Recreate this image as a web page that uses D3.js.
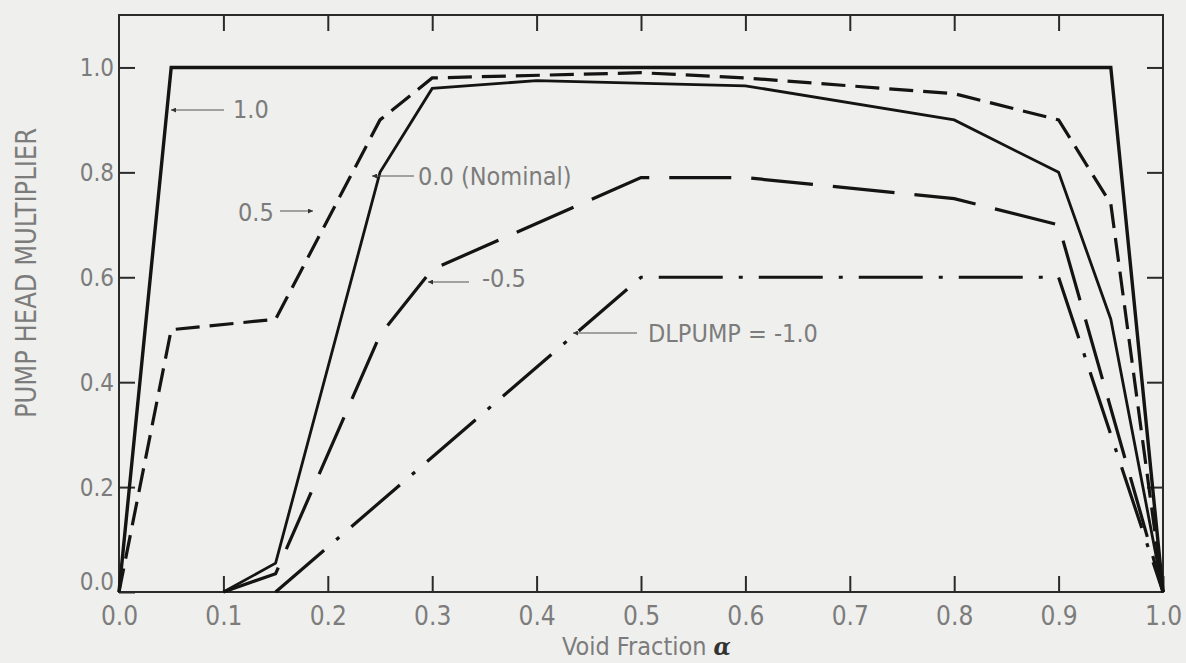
<!DOCTYPE html>
<html>
<head>
<meta charset="utf-8">
<script src="https://cdn.jsdelivr.net/npm/d3@7"></script>
<style>
  html, body { margin: 0; padding: 0; background: #efefed; }
  svg { display: block; }
  text { font-family: "DejaVu Sans Condensed", "DejaVu Sans", sans-serif; font-stretch: condensed; fill: #7c7c7c; }
</style>
</head>
<body>
<svg id="chart" width="1186" height="663"></svg>
<script>
// Tick values
const xTicks = [0, 0.1, 0.2, 0.3, 0.4, 0.5, 0.6, 0.7, 0.8, 0.9, 1.0];
const yTicks = [0, 0.2, 0.4, 0.6, 0.8, 1.0];

// Pump head multiplier vs void fraction, one curve per DLPUMP setting
const curveDl10   = [[0, 0], [0.05, 1.0], [0.95, 1.0], [1.0, 0]];
const curveDl05   = [[0, 0], [0.05, 0.5], [0.15, 0.52], [0.25, 0.9], [0.3, 0.98], [0.5, 0.99],
                     [0.6, 0.98], [0.8, 0.95], [0.9, 0.9], [0.95, 0.74], [1.0, 0]];
const curveDl00   = [[0.1, 0], [0.15, 0.055], [0.25, 0.8], [0.3, 0.96], [0.4, 0.975], [0.6, 0.965],
                     [0.8, 0.9], [0.9, 0.8], [0.95, 0.52], [1.0, 0]];
const curveDlM05  = [[0.1, 0], [0.15, 0.035], [0.25, 0.49], [0.3, 0.615], [0.5, 0.79], [0.6, 0.79],
                     [0.8, 0.75], [0.9, 0.7], [1.0, 0]];
const curveDlM10  = [[0.15, 0], [0.5, 0.6], [0.9, 0.6], [1.0, 0]];

// Curve label texts
const labelTexts  = ["1.0", "0.5", "0.0 (Nominal)", "-0.5", "DLPUMP = -1.0"];

(function () {
const svg = d3.select("#chart");
const mLeft = 119, mRight = 1163, mTop = 15, mBottom = 592;

const x = d3.scaleLinear().domain([0, 1]).range([mLeft, mRight]);
const y = d3.scaleLinear().domain([0, 1.1]).range([mBottom, mTop]);

const ink = "#141414";

// arrowhead marker
const defs = svg.append("defs");
defs.append("marker")
  .attr("id", "head")
  .attr("viewBox", "0 0 10 10")
  .attr("refX", 10).attr("refY", 5)
  .attr("markerWidth", 10).attr("markerHeight", 5)
  .attr("markerUnits", "userSpaceOnUse")
  .attr("orient", "auto")
  .append("path").attr("d", "M0,0 L10,5 L0,10 Z").attr("fill", "#333");

// frame
svg.append("rect")
  .attr("x", mLeft).attr("y", mTop)
  .attr("width", mRight - mLeft).attr("height", mBottom - mTop)
  .attr("fill", "none").attr("stroke", "#2a2a2a").attr("stroke-width", 2);

// inward ticks on all four sides
const tickLen = 16;
const bottomAxis = d3.axisBottom(x).tickValues(xTicks).tickSizeInner(-tickLen).tickSizeOuter(0)
  .tickFormat(d3.format(".1f")).tickPadding(24);
const topAxis = d3.axisTop(x).tickValues(xTicks.filter(d => d > 0 && d < 1)).tickSizeInner(-tickLen)
  .tickSizeOuter(0).tickFormat("");
const leftAxis = d3.axisLeft(y).tickValues(yTicks).tickSizeInner(-tickLen).tickSizeOuter(0)
  .tickFormat(d3.format(".1f")).tickPadding(5);
const rightAxis = d3.axisRight(y).tickValues(yTicks.filter(d => d > 0)).tickSizeInner(-tickLen)
  .tickSizeOuter(0).tickFormat("");

function styleAxis(g) {
  g.select(".domain").remove();
  g.selectAll(".tick line").attr("stroke", "#2a2a2a").attr("stroke-width", 2);
  g.selectAll(".tick text").attr("fill", "#808080")
    .style("font-family", '"DejaVu Sans Condensed", "DejaVu Sans", sans-serif');
}

svg.append("g").attr("transform", `translate(0,${mBottom})`).call(bottomAxis).call(styleAxis)
  .selectAll(".tick text").attr("font-size", 26).attr("dy", "0.35em");
svg.append("g").attr("transform", `translate(0,${mTop})`).call(topAxis).call(styleAxis);
svg.append("g").attr("transform", `translate(${mLeft},0)`).call(leftAxis).call(styleAxis)
  .selectAll(".tick text").attr("font-size", 24)
  .attr("dy", d => d === 0 ? "-0.1em" : "0.35em");
svg.append("g").attr("transform", `translate(${mRight},0)`).call(rightAxis).call(styleAxis);

// curves
const line = d3.line().x(d => x(d[0])).y(d => y(d[1]));
const curves = [
  { data: curveDl10,  width: 3.4, dash: null },
  { data: curveDl05,  width: 3.2, dash: "24,10" },
  { data: curveDl00,  width: 2.8, dash: null },
  { data: curveDlM05, width: 3.2, dash: "62,20" },
  { data: curveDlM10, width: 3.2, dash: "64,16,4,16" }
];
svg.append("g").selectAll("path")
  .data(curves)
  .join("path")
  .attr("d", d => line(d.data))
  .attr("fill", "none")
  .attr("stroke", ink)
  .attr("stroke-width", d => d.width)
  .attr("stroke-linejoin", "miter")
  .attr("stroke-dasharray", d => d.dash);

// curve labels with arrows (arrow tip sits on the curve)
const labels = [
  { text: labelTexts[0], tx: 233, ty: 109, ax0: 224, ax1: 171, ay: 110 },
  { text: labelTexts[1], tx: 238, ty: 212, ax0: 280, ax1: 313, ay: 211 },
  { text: labelTexts[2], tx: 418, ty: 176, ax0: 414, ax1: 372, ay: 176 },
  { text: labelTexts[3], tx: 482, ty: 278, ax0: 469, ax1: 428, ay: 282 },
  { text: labelTexts[4], tx: 648, ty: 333, ax0: 637, ax1: 573, ay: 333 }
];
const lg = svg.append("g");
lg.selectAll("line")
  .data(labels)
  .join("line")
  .attr("x1", d => d.ax0).attr("x2", d => d.ax1)
  .attr("y1", d => d.ay).attr("y2", d => d.ay)
  .attr("stroke", "#555").attr("stroke-width", 1.2)
  .attr("marker-end", "url(#head)");
lg.selectAll("text")
  .data(labels)
  .join("text")
  .attr("x", d => d.tx).attr("y", d => d.ty)
  .attr("dy", "0.35em")
  .attr("font-size", 25)
  .attr("fill", "#707070")
  .text(d => d.text);

// axis titles
svg.append("text")
  .attr("transform", "translate(36,273) rotate(-90)")
  .attr("text-anchor", "middle")
  .attr("font-size", 29)
  .attr("textLength", 290)
  .attr("lengthAdjust", "spacingAndGlyphs")
  .text("PUMP HEAD MULTIPLIER");

const xt = svg.append("text")
  .attr("x", 562).attr("y", 655)
  .attr("font-size", 25);
xt.append("tspan").text("Void Fraction ");
xt.append("tspan")
  .style("font-family", '"DejaVu Serif", serif')
  .attr("font-style", "italic").attr("font-weight", "bold")
  .attr("fill", "#333")
  .text("α");
})();
</script>
</body>
</html>
